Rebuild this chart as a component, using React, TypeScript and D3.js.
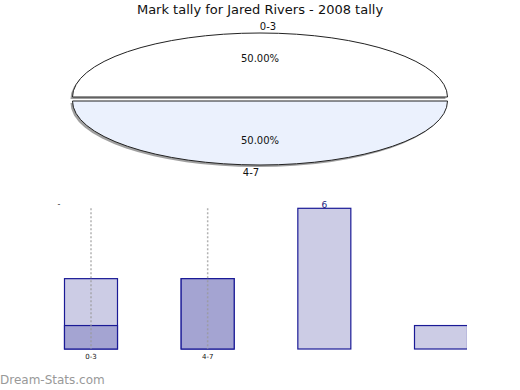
import React from 'react';
import * as d3 from 'd3';

const title = 'Mark tally for Jared Rivers - 2008 tally';
const pieLabels = ['0-3', '4-7'];
const pieValues = [1, 1];
const pieColors = ['#ffffff', '#ebf1fd'];

const barSlots = ['a', 'b', 'c', 'd'];
const tickLabels = ['0-3', '4-7', '', ''];
const backValues = [3, 3, 6, 1];
const frontValues = [1, 3, 0, 0];
const topLabels = ['', '', '6', ''];

const W = 520;
const H = 390;
const font = 'DejaVu Sans, Verdana, sans-serif';

export default function App() {
  // pie, squashed into an ellipse
  const cx = 260;
  const cy = 99;
  const rx = 187.5;
  const ry = 64;
  const pie = d3.pie<number>().sort(null).startAngle(-Math.PI / 2).endAngle((3 * Math.PI) / 2);
  const arcs = pie(pieValues);
  const arc = d3.arc<d3.PieArcDatum<number>>().innerRadius(0).outerRadius(1);
  const explode = 2;

  // bars
  const x = d3.scalePoint<string>().domain(barSlots).range([91, 441]);
  const y = d3.scaleLinear().domain([0, 6]).range([349, 208.3]);
  const bw = 53;

  return (
    <svg width={W} height={H} style={{ position: 'absolute', left: 0, top: 0 }} fontFamily={font}>
      <rect width={W} height={H} fill="#fff" />
      <text x={260} y={14} textAnchor="middle" fontSize={13} fill="#111">{title}</text>

      <g>
        {arcs.map((a, i) => {
          const mid = (a.startAngle + a.endAngle) / 2;
          const dx = Math.sin(mid) * explode;
          const dy = -Math.cos(mid) * explode;
          const path = arc(a) as string;
          return (
            <g key={'s' + i}>
              <g transform={`translate(${cx + dx - 2},${cy + dy + 2}) scale(${rx},${ry})`}>
                <path d={path} fill="#888" opacity={0.8} />
              </g>
              <g transform={`translate(${cx + dx},${cy + dy}) scale(${rx},${ry})`}>
                <path d={path} fill={pieColors[i]} stroke="#222" strokeWidth={1} vectorEffect="non-scaling-stroke" />
              </g>
            </g>
          );
        })}
        <text x={260} y={62} textAnchor="middle" fontSize={10} fill="#111">50.00%</text>
        <text x={260} y={144} textAnchor="middle" fontSize={10} fill="#111">50.00%</text>
        <text x={268} y={30} textAnchor="middle" fontSize={10} fill="#111">{pieLabels[0]}</text>
        <text x={251} y={176} textAnchor="middle" fontSize={10} fill="#111">{pieLabels[1]}</text>
      </g>

      <defs>
        <clipPath id="plot">
          <rect x={0} y={190} width={467} height={160} />
        </clipPath>
      </defs>
      <g clipPath="url(#plot)">
        {barSlots.map((s, i) => (
          <rect key={'b' + s} x={x(s)! - bw / 2} y={y(backValues[i])} width={bw} height={y(0) - y(backValues[i])}
            fill="#ccccE5" stroke="#1a1a96" strokeWidth={1.2} />
        ))}
        {barSlots.map((s, i) => frontValues[i] > 0 && (
          <rect key={'f' + s} x={x(s)! - bw / 2} y={y(frontValues[i])} width={bw} height={y(0) - y(frontValues[i])}
            fill="#a4a4d2" stroke="#1a1a96" strokeWidth={1.2} />
        ))}
        {barSlots.map((s, i) => tickLabels[i] && (
          <line key={'g' + s} x1={x(s)} x2={x(s)} y1={y(6)} y2={y(0)} stroke="#999" strokeWidth={1.5} strokeDasharray="2,2" opacity={0.75} />
        ))}
      </g>
      {barSlots.map((s, i) => topLabels[i] && (
        <text key={'t' + s} x={x(s)} y={y(backValues[i]) - 0.5} textAnchor="middle" fontSize={9} fill="#1a1a80">{topLabels[i]}</text>
      ))}
      <text x={59} y={207} textAnchor="middle" fontSize={8} fill="#333">-</text>
      {barSlots.map((s, i) => tickLabels[i] && (
        <text key={'l' + s} x={x(s)} y={359} textAnchor="middle" fontSize={7} fill="#111">{tickLabels[i]}</text>
      ))}

      <text x={0} y={384} fontSize={12} fill="#999">Dream-Stats.com</text>
    </svg>
  );
}
